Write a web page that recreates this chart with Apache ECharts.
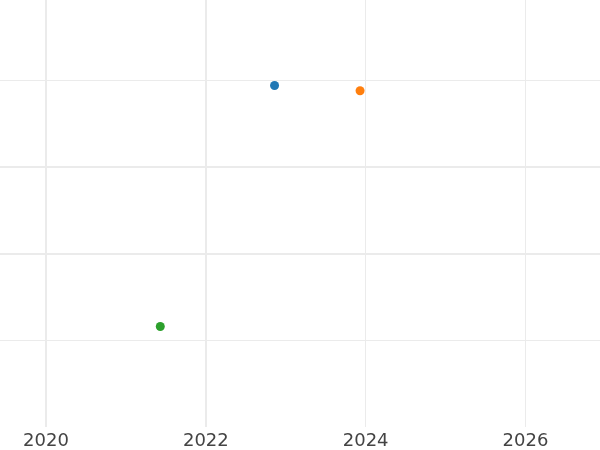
<!DOCTYPE html>
<html>
<head>
<meta charset="utf-8">
<script src="https://cdn.jsdelivr.net/npm/echarts@6/dist/echarts.min.js"></script>
<style>html,body{margin:0;padding:0;background:#fff;}#c{width:600px;height:450px;}</style>
</head>
<body>
<div id="c"></div>
<script>
var seriesNames = ['A', 'B', 'C'];
var seriesColors = ['#1f77b4', '#ff7f0e', '#2ca02c'];
var seriesX = [2022.86, 2023.93, 2021.43];
var seriesY = [3.94, 3.88, 1.16];
var xTicks = [2020, 2022, 2024, 2026];
var thickX = [2020, 2022];
var thickY = [2, 3];

var chart = echarts.init(document.getElementById('c'), null, {renderer: 'canvas'});
var series = seriesNames.map(function (n, i) {
  return {
    name: n,
    type: 'scatter',
    symbol: 'circle',
    symbolSize: 9,
    itemStyle: {color: seriesColors[i], opacity: 1},
    data: [[seriesX[i], seriesY[i]]],
    z: 5
  };
});
series.push({
  type: 'scatter',
  data: [],
  silent: true,
  z: 1,
  markLine: {
    silent: true,
    symbol: ['none', 'none'],
    label: {show: false},
    animation: false,
    lineStyle: {color: '#ebebeb', width: 2, type: 'solid'},
    emphasis: {disabled: true},
    data: thickX.map(function (v) { return {xAxis: v}; })
      .concat(thickY.map(function (v) { return {yAxis: v}; }))
  }
});

chart.setOption({
  animation: false,
  backgroundColor: '#ffffff',
  grid: {left: -113.8, right: -85.3, top: -6.33, bottom: 23, containLabel: false, outerBoundsMode: 'none'},
  xAxis: {
    type: 'value',
    min: 2018,
    max: 2028,
    interval: 2,
    axisLine: {show: false},
    axisTick: {show: false},
    axisLabel: {
      color: '#444444',
      fontSize: 18,
      fontFamily: 'DejaVu Sans',
      margin: 5,
      formatter: function (v) { return xTicks.indexOf(v) >= 0 ? String(v) : ''; }
    },
    splitLine: {show: true, lineStyle: {color: '#ebebeb', width: 1}}
  },
  yAxis: {
    type: 'value',
    min: 0,
    max: 5,
    interval: 1,
    axisLine: {show: false},
    axisTick: {show: false},
    axisLabel: {show: false},
    splitLine: {show: true, showMinLine: false, showMaxLine: false, lineStyle: {color: '#ebebeb', width: 1}}
  },
  series: series
});
</script>
</body>
</html>
